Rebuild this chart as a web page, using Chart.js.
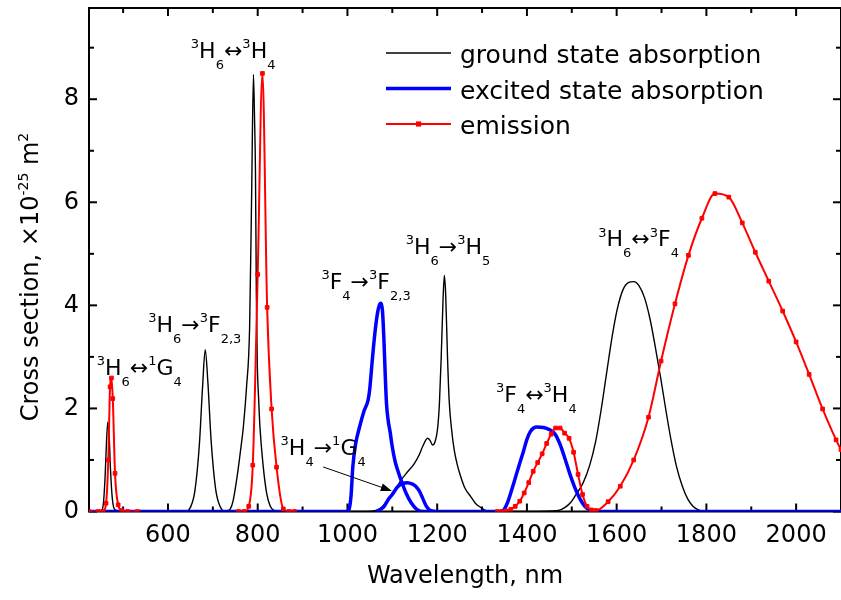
<!DOCTYPE html>
<html>
<head>
<meta charset="utf-8">
<script src="https://cdn.jsdelivr.net/npm/chart.js@4"></script>
<style>
  html, body { margin: 0; padding: 0; overflow: hidden; background: #fff; }
  #wrap { width: 846px; height: 600px; }
</style>
</head>
<body>
<div id="wrap"><canvas id="chart" width="846" height="600"></canvas></div>
<script>
// 刻度
const xTicks = [600, 800, 1000, 1200, 1400, 1600, 1800, 2000];
const xMinor = [500, 700, 900, 1100, 1300, 1500, 1700, 1900, 2100];
const yTicks = [0, 2, 4, 6, 8];
const yMinor = [1, 3, 5, 7, 9];

// 基態吸收 (nm, ×10^-25 m^2)
const gsaWl = [424, 450, 456, 460, 463, 466, 469, 472, 476, 482, 500,
  640, 650, 660, 670, 677, 683, 689, 696, 706, 716, 726, 734,
  739, 745, 754, 762, 768, 775, 782, 786.5, 790.5, 793, 795, 797, 799, 802, 805, 812, 820, 828, 836, 850,
  1000, 1031, 1068, 1090, 1105, 1119.5, 1135, 1149, 1160, 1167.6, 1178.6, 1184, 1189.7, 1195, 1200.8,
  1205, 1209, 1213, 1216, 1219, 1223, 1226.7, 1232, 1238, 1245, 1252.7, 1262, 1274.8, 1285, 1296.7, 1311, 1330,
  1400, 1470, 1485, 1498, 1511, 1525, 1540, 1553, 1565, 1577, 1590, 1602, 1614, 1626, 1638,
  1650, 1662, 1674, 1686, 1698, 1710, 1722, 1734, 1746, 1758, 1770, 1782, 1795, 2100];
const gsaVal = [0, 0, 0.15, 0.7, 1.35, 1.74, 1.45, 0.8, 0.25, 0.03, 0,
  0, 0.08, 0.4, 1.3, 2.4, 3.14, 2.5, 1.4, 0.45, 0.1, 0.01, 0.02,
  0.05, 0.2, 0.67, 1.2, 1.64, 2.4, 3.58, 6.17, 8.48, 7.6, 6.6, 4.2, 2.9, 2.2, 1.64, 0.9, 0.35, 0.1, 0.02, 0,
  0, 0, 0.03, 0.22, 0.4, 0.61, 0.78, 0.93, 1.1, 1.26, 1.42, 1.38, 1.29, 1.35, 1.6,
  2.1, 3.0, 4.1, 4.58, 4.2, 3.0, 2.16, 1.6, 1.19, 0.9, 0.67, 0.45, 0.29, 0.16, 0.08, 0.01, 0,
  0, 0.02, 0.08, 0.18, 0.35, 0.55, 0.9, 1.35, 1.95, 2.65, 3.4, 3.95, 4.3, 4.44, 4.46,
  4.38, 4.15, 3.75, 3.2, 2.6, 1.95, 1.35, 0.85, 0.5, 0.25, 0.1, 0.03, 0, 0];

// 激發態吸收
const esaWl = [424, 1000, 1004, 1008, 1012, 1018, 1027, 1037, 1046, 1050, 1055, 1061, 1067, 1071, 1075,
  1078, 1081, 1084, 1087, 1091, 1095, 1100, 1106, 1112, 1119.5, 1130, 1142, 1156, 1171,
  1340, 1348.5, 1358, 1370.6, 1382, 1393, 1400, 1407.6, 1415, 1422, 1437, 1452, 1463, 1474, 1485,
  1496, 1507, 1518, 1529, 1540, 1552, 2100];
const esaVal = [0, 0, 0.05, 0.3, 0.87, 1.3, 1.64, 1.95, 2.16, 2.4, 2.9, 3.45, 3.85, 4.0, 4.04,
  3.9, 3.4, 2.7, 2.1, 1.75, 1.55, 1.25, 0.98, 0.8, 0.61, 0.37, 0.17, 0.03, 0,
  0, 0.03, 0.2, 0.55, 0.88, 1.19, 1.4, 1.55, 1.62, 1.64, 1.63, 1.58, 1.5, 1.3, 1.02,
  0.72, 0.46, 0.25, 0.1, 0.03, 0, 0];

// 激發態吸收 3H4 -> 1G4
const esa2Wl = [1064, 1080, 1090, 1100, 1112, 1122, 1134, 1145, 1152, 1160, 1168, 1176, 1185, 1195];
const esa2Val = [0, 0.08, 0.22, 0.33, 0.48, 0.54, 0.56, 0.53, 0.49, 0.4, 0.25, 0.1, 0.02, 0];

// 發射 (null = 無資料)
const emWl = [424, 445, 455, 462, 467, 471, 474, 477, 482, 489, 497, 510, 532, 600,
  757, 770, 780, 789, 800, 810.5, 821, 831, 842, 857, 870, 882, 1000,
  1334, 1344, 1354, 1364, 1374, 1384, 1394, 1404, 1414, 1424, 1434, 1444, 1454, 1464, 1474, 1484,
  1494, 1504, 1514, 1524, 1534, 1544, 1554, 1581, 1608, 1638, 1671, 1699, 1730, 1760, 1790, 1819,
  1850, 1880, 1909, 1939, 1970, 2000, 2029, 2059, 2089, 2100];
const emVal = [0, 0, 0, 0.16, 1.0, 2.42, 2.59, 2.19, 0.74, 0.13, 0.02, 0, 0, null,
  0, 0, 0.1, 0.9, 4.6, 8.5, 3.96, 1.99, 0.86, 0.05, 0, 0, null,
  0, 0, 0.01, 0.04, 0.1, 0.2, 0.36, 0.56, 0.78, 0.95, 1.12, 1.32, 1.5, 1.62, 1.62, 1.52,
  1.42, 1.15, 0.72, 0.33, 0.1, 0.03, 0.02, 0.19, 0.49, 1.0, 1.83, 2.92, 4.03, 4.97, 5.69, 6.17,
  6.1, 5.6, 5.03, 4.47, 3.89, 3.29, 2.66, 1.99, 1.39, 1.2];

// 能階標註 (位置以波長與截面值表示)
const transitions = [
  { wl: 441, val: 2.65, parts: [['3', 'sup'], ['H'], ['6', 'sub'], ['↔'], ['1', 'sup'], ['G'], ['4', 'sub']] },
  { wl: 556, val: 3.49, parts: [['3', 'sup'], ['H'], ['6', 'sub'], ['→'], ['3', 'sup'], ['F'], ['2,3', 'sub']] },
  { wl: 651, val: 8.8, parts: [['3', 'sup'], ['H'], ['6', 'sub'], ['↔'], ['3', 'sup'], ['H'], ['4', 'sub']] },
  { wl: 942, val: 4.32, parts: [['3', 'sup'], ['F'], ['4', 'sub'], ['→'], ['3', 'sup'], ['F'], ['2,3', 'sub']] },
  { wl: 1130, val: 5.0, parts: [['3', 'sup'], ['H'], ['6', 'sub'], ['→'], ['3', 'sup'], ['H'], ['5', 'sub']] },
  { wl: 1331, val: 2.13, parts: [['3', 'sup'], ['F'], ['4', 'sub'], ['↔'], ['3', 'sup'], ['H'], ['4', 'sub']] },
  { wl: 1559, val: 5.15, parts: [['3', 'sup'], ['H'], ['6', 'sub'], ['↔'], ['3', 'sup'], ['F'], ['4', 'sub']] },
  { wl: 851, val: 1.1, parts: [['3', 'sup'], ['H'], ['4', 'sub'], ['→'], ['1', 'sup'], ['G'], ['4', 'sub']] }
];
const arrowFrom = [946, 0.864];
const arrowTo = [1099, 0.4];

const FONT = '"DejaVu Sans", sans-serif';

const ChartApp = {
  chart: null,

  init() {
    const ctx = document.getElementById('chart').getContext('2d');
    this.chart = new Chart(ctx, {
      type: 'line',
      data: { datasets: this.buildDatasets() },
      options: this.buildOptions(),
      plugins: [this.framePlugin()]
    });
  },

  toPoints(xs, ys) {
    return xs.map((x, i) => ({ x: x, y: ys[i] }));
  },

  buildDatasets() {
    const common = { pointRadius: 0, cubicInterpolationMode: 'monotone', fill: false };
    return [
      {
        ...common,
        label: 'emission',
        data: this.toPoints(emWl, emVal),
        borderColor: '#ff0000',
        backgroundColor: '#ff0000',
        borderWidth: 2,
        pointStyle: 'rect',
        pointRadius: 2.6,
        pointBorderWidth: 1,
        pointBorderColor: '#ff0000',
        pointBackgroundColor: '#ff0000',
        spanGaps: false,
        order: 0
      },
      {
        ...common,
        label: 'excited state absorption',
        data: this.toPoints(esaWl, esaVal),
        borderColor: '#0000ff',
        borderWidth: 3.5,
        order: 1
      },
      {
        ...common,
        label: 'excited state absorption (3H4-1G4)',
        data: this.toPoints(esa2Wl, esa2Val),
        borderColor: '#0000ff',
        borderWidth: 3.5,
        order: 1
      },
      {
        ...common,
        label: 'ground state absorption',
        data: this.toPoints(gsaWl, gsaVal),
        borderColor: '#000000',
        borderWidth: 1.4,
        order: 2
      }
    ];
  },

  buildOptions() {
    const tickFont = { family: FONT, size: 24 };
    return {
      responsive: false,
      animation: false,
      layout: { padding: { top: 8, left: 0, right: 0, bottom: 0 } },
      plugins: {
        legend: { display: false },
        tooltip: { enabled: false }
      },
      scales: {
        x: {
          type: 'linear',
          min: 424,
          max: 2100,
          grid: { display: false, drawTicks: false },
          border: { display: false },
          ticks: {
            font: tickFont,
            color: '#000',
            padding: 10,
            autoSkip: false,
            maxRotation: 0,
            callback: (v) => String(v)
          },
          afterBuildTicks: (s) => { s.ticks = xTicks.map(v => ({ value: v })); },
          afterFit: (s) => { s.height = 88.5; s.paddingLeft = 0; s.paddingRight = 0; },
          title: {
            display: true,
            text: 'Wavelength, nm',
            font: tickFont,
            color: '#000',
            padding: { top: 0, bottom: 9 }
          }
        },
        y: {
          min: 0,
          max: 9.77,
          grid: { display: false, drawTicks: false },
          border: { display: false },
          ticks: {
            font: tickFont,
            color: '#000',
            padding: 10,
            callback: (v) => String(v)
          },
          afterBuildTicks: (s) => { s.ticks = yTicks.map(v => ({ value: v })); },
          afterFit: (s) => { s.width = 89; s.paddingTop = 0; s.paddingBottom = 0; }
        }
      }
    };
  },

  // 上下標文字
  drawRich(ctx, parts, x, y, big, small, raise, drop) {
    let cx = x;
    parts.forEach(([t, k]) => {
      ctx.font = (k ? small : big) + 'px ' + FONT;
      const dy = k === 'sup' ? -raise : (k === 'sub' ? drop : 0);
      ctx.fillText(t, cx, y + dy);
      cx += ctx.measureText(t).width;
    });
    return cx - x;
  },

  richWidth(ctx, parts, big, small) {
    return parts.reduce((w, [t, k]) => {
      ctx.font = (k ? small : big) + 'px ' + FONT;
      return w + ctx.measureText(t).width;
    }, 0);
  },

  framePlugin() {
    const app = this;
    return {
      id: 'frame',
      beforeDatasetsDraw(chart) {
        const { ctx, chartArea: a, scales: { x, y } } = chart;
        ctx.save();
        ctx.strokeStyle = '#000';
        ctx.lineWidth = 2;
        ctx.strokeRect(a.left, a.top, a.right - a.left, a.bottom - a.top);

        const line = (x1, y1, x2, y2) => {
          ctx.beginPath();
          ctx.moveTo(x1, y1);
          ctx.lineTo(x2, y2);
          ctx.stroke();
        };
        const xMark = (v, len) => {
          const px = x.getPixelForValue(v);
          line(px, a.bottom, px, a.bottom - len);
          line(px, a.top, px, a.top + len);
        };
        const yMark = (v, len) => {
          const py = y.getPixelForValue(v);
          line(a.left, py, a.left + len, py);
          line(a.right, py, a.right - len, py);
        };
        xTicks.forEach(v => xMark(v, 8));
        xMinor.forEach(v => xMark(v, 5));
        yTicks.forEach(v => yMark(v, 8));
        yMinor.forEach(v => yMark(v, 5));
        ctx.restore();
      },
      afterDatasetsDraw(chart) {
        const { ctx, scales: { x, y } } = chart;
        ctx.save();
        ctx.fillStyle = '#000';
        ctx.textBaseline = 'alphabetic';
        ctx.textAlign = 'left';

        // 能階標註
        transitions.forEach(t => {
          app.drawRich(ctx, t.parts, x.getPixelForValue(t.wl), y.getPixelForValue(t.val), 22, 13, 9.5, 11);
        });

        // 箭頭
        const x1 = x.getPixelForValue(arrowFrom[0]), y1 = y.getPixelForValue(arrowFrom[1]);
        const x2 = x.getPixelForValue(arrowTo[0]), y2 = y.getPixelForValue(arrowTo[1]);
        const ang = Math.atan2(y2 - y1, x2 - x1);
        ctx.strokeStyle = '#000';
        ctx.lineWidth = 1;
        ctx.beginPath();
        ctx.moveTo(x1, y1);
        ctx.lineTo(x2 - 8 * Math.cos(ang), y2 - 8 * Math.sin(ang));
        ctx.stroke();
        ctx.beginPath();
        ctx.moveTo(x2, y2);
        ctx.lineTo(x2 - 11 * Math.cos(ang) + 4 * Math.sin(ang), y2 - 11 * Math.sin(ang) - 4 * Math.cos(ang));
        ctx.lineTo(x2 - 11 * Math.cos(ang) - 4 * Math.sin(ang), y2 - 11 * Math.sin(ang) + 4 * Math.cos(ang));
        ctx.closePath();
        ctx.fill();

        // 圖例
        const rows = [
          { text: 'ground state absorption', color: '#000000', width: 1.4, marker: false, y: 53 },
          { text: 'excited state absorption', color: '#0000ff', width: 3.5, marker: false, y: 88.5 },
          { text: 'emission', color: '#ff0000', width: 2, marker: true, y: 124 }
        ];
        rows.forEach(r => {
          ctx.strokeStyle = r.color;
          ctx.lineWidth = r.width;
          ctx.beginPath();
          ctx.moveTo(386, r.y);
          ctx.lineTo(451, r.y);
          ctx.stroke();
          if (r.marker) {
            ctx.fillStyle = r.color;
            ctx.fillRect(416, r.y - 2.6, 5.2, 5.2);
          }
          ctx.fillStyle = '#000';
          ctx.font = '25px ' + FONT;
          ctx.fillText(r.text, 460, r.y + 10);
        });

        // Y 軸標題
        const titleParts = [['Cross section, ×10'], ['-25', 'sup'], [' m'], ['2', 'sup']];
        const w = app.richWidth(ctx, titleParts, 24, 14);
        ctx.translate(38, 277);
        ctx.rotate(-Math.PI / 2);
        app.drawRich(ctx, titleParts, -w / 2, 0, 24, 14, 10, 0);
        ctx.restore();
      }
    };
  }
};

document.addEventListener('DOMContentLoaded', () => {
  ChartApp.init();
});
</script>
</body>
</html>
